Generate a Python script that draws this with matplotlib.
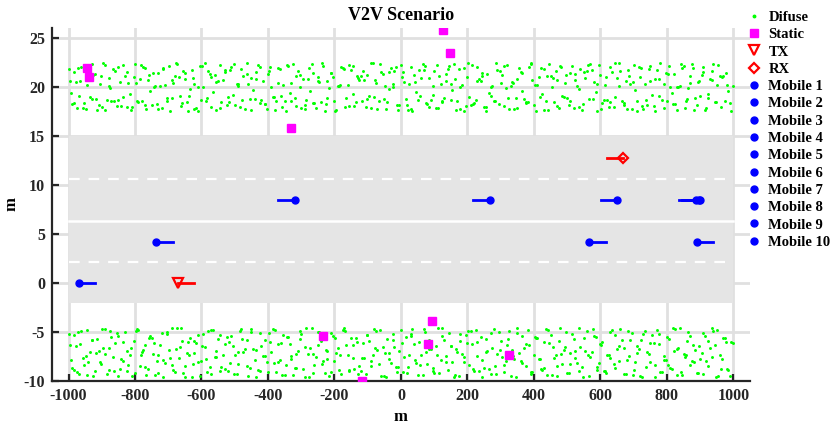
import matplotlib
matplotlib.use("Agg")
import matplotlib.pyplot as plt
from matplotlib.patches import Rectangle
from matplotlib.lines import Line2D

plt.rcParams['font.family'] = ['Liberation Serif', 'DejaVu Serif']
plt.rcParams['font.weight'] = 'bold'
plt.rcParams['axes.unicode_minus'] = False

# diffuse scatterers (estimated positions)
dif_xa = [-998, -989, -978, -969, -961, -948, -940, -929, -921, -909, -900, -891, -879, -871, -860, -851, -842, -829, -821, -811,
          -799, -791, -779, -770, -762, -749, -741, -730, -719, -711, -699, -690, -681, -669, -660, -651, -640, -629, -621, -610,
          -601, -589, -580, -571, -559, -550, -541, -530, -519, -511, -500, -489, -481, -470, -459, -451, -439, -431, -420, -409,
          -400, -391, -379, -371, -360, -349, -341, -330, -319, -310, -301, -290, -281, -269, -261, -250, -240, -229, -221, -209,
          -200, -190, -181, -169, -160, -151, -140, -131, -119, -110, -101, -89, -80, -71, -60, -49, -41, -30, -20, -11,
          -1, 9, 21, 30, 39, 51, 60, 71, 79, 91, 100, 111, 120, 129, 141, 150, 161, 170, 179, 191,
          200, 211, 219, 230, 241, 249, 260, 271, 280, 289, 301, 310, 320, 331, 339, 350, 361, 369, 381, 390,
          399, 410, 421, 430, 439, 451, 460, 471, 479, 490, 501, 509, 520, 531, 540, 549, 561, 570, 580, 591,
          599, 610, 621, 629, 640, 651, 659, 670, 681, 689, 700, 711, 720, 729, 741, 750, 761, 769, 780, 791,
          800, 809, 821, 830, 839, 851, 860, 871, 879, 890, 901, 910, 919, 931, 940, 949, 961, 970, 981, 994]
dif_xb = [-994, -984, -973, -965, -954, -944, -935, -925, -914, -905, -895, -884, -875, -866, -855, -846, -835, -825, -816, -804,
          -795, -785, -775, -766, -754, -745, -735, -724, -715, -705, -694, -685, -675, -665, -655, -645, -634, -625, -615, -605,
          -594, -585, -575, -564, -555, -545, -535, -524, -515, -505, -494, -485, -475, -464, -455, -445, -435, -425, -414, -404,
          -395, -385, -375, -365, -354, -345, -335, -324, -315, -305, -295, -285, -274, -265, -255, -245, -234, -225, -215, -204,
          -195, -185, -175, -164, -155, -145, -135, -125, -114, -105, -95, -85, -75, -65, -54, -45, -35, -25, -15, -5,
          5, 15, 25, 34, 45, 55, 65, 75, 85, 95, 106, 115, 125, 135, 145, 155, 166, 175, 185, 195,
          205, 215, 225, 236, 245, 255, 265, 275, 286, 295, 305, 315, 325, 335, 345, 355, 365, 375, 386, 395,
          405, 415, 425, 435, 445, 455, 466, 475, 485, 495, 505, 516, 525, 535, 545, 555, 565, 575, 586, 595,
          605, 615, 625, 635, 645, 655, 665, 676, 685, 695, 705, 715, 725, 735, 746, 755, 765, 775, 785, 796,
          805, 815, 825, 835, 845, 856, 865, 875, 885, 895, 905, 915, 925, 936, 945, 955, 965, 975, 985, 998]
dif_xc = [-996, -983, -970, -957, -943, -930, -917, -903, -890, -877, -863, -850, -837, -823, -810, -797, -783, -770, -757, -743,
          -730, -717, -703, -690, -677, -663, -650, -637, -623, -610, -597, -583, -570, -557, -543, -530, -517, -503, -490, -477,
          -463, -450, -437, -423, -410, -397, -383, -370, -357, -343, -330, -317, -303, -290, -277, -263, -250, -237, -223, -210,
          -197, -183, -170, -157, -143, -130, -117, -103, -90, -77, -63, -50, -37, -23, -10, 3, 17, 30, 43, 57,
          70, 83, 97, 110, 123, 137, 150, 163, 177, 190, 203, 217, 230, 243, 257, 270, 283, 297, 310, 323,
          337, 350, 363, 377, 390, 403, 417, 430, 443, 457, 470, 483, 497, 510, 523, 537, 550, 563, 577, 590,
          603, 617, 630, 643, 657, 670, 683, 697, 710, 723, 737, 750, 763, 777, 790, 803, 817, 830, 843, 857,
          870, 883, 897, 910, 923, 937, 950, 963, 977, 990]
dif_yu1 = [21.8, 18.2, 20.5, 19.1, 22.0, 17.7, 20.9, 18.8, 21.3, 18.1, 17.9, 22.2, 20.1, 18.5, 21.6, 18.7, 18.0, 21.1, 20.4, 17.6,
           22.3, 18.4, 18.6, 21.9, 20.7, 18.1, 20.1, 21.4, 17.8, 20.2, 22.1, 18.9, 21.1, 21.0, 18.3, 20.8, 17.5, 21.7, 17.7, 20.0,
           18.7, 22.4, 21.6, 17.9, 21.2, 20.6, 18.4, 21.5, 19.0, 22.0, 18.1, 20.3, 21.8, 17.7, 20.3, 20.9, 18.8, 22.2, 18.7, 18.2,
           21.3, 20.0, 17.6, 21.9, 19.1, 18.5, 22.1, 20.4, 18.9, 21.6, 17.8, 18.1, 20.8, 22.3, 18.3, 21.0, 18.4, 17.5, 20.6, 21.4,
           18.6, 20.1, 22.0, 17.9, 20.2, 21.7, 18.0, 21.1, 21.1, 20.7, 18.8, 22.4, 19.0, 17.7, 21.5, 20.1, 18.4, 21.9, 21.6, 18.1,
           22.2, 20.5, 17.6, 17.7, 21.2, 18.7, 20.9, 22.1, 18.2, 18.7, 21.6, 17.8, 20.3, 18.9, 21.8, 20.3, 22.3, 18.5, 20.0, 17.5,
           21.0, 18.1, 18.3, 22.0, 20.6, 17.9, 21.3, 19.1, 18.6, 21.7, 20.4, 18.0, 22.2, 20.1, 17.7, 20.8, 21.5, 18.8, 18.4, 22.4,
           18.1, 20.2, 21.9, 17.6, 21.1, 21.1, 18.4, 20.7, 22.1, 19.0, 18.9, 21.4, 17.8, 20.1, 21.8, 18.2, 21.6, 22.3, 20.5, 17.5,
           21.2, 18.7, 18.7, 22.0, 17.9, 20.9, 21.6, 18.3, 17.7, 20.3, 22.2, 18.5, 21.0, 17.7, 18.1, 20.6, 18.0, 21.7, 22.4, 20.3,
           18.6, 20.0, 21.3, 17.6, 20.1, 22.1, 18.8, 20.4, 21.9, 18.1, 19.1, 21.5, 17.8, 20.8, 22.3, 18.4, 21.1, 21.1, 20.2, 17.5]
dif_yu2 = [19.4, 21.5, 17.8, 20.6, 18.3, 22.1, 19.0, 21.2, 17.6, 20.3, 22.4, 18.7, 19.9, 21.8, 18.0, 20.5, 22.2, 17.9, 19.3, 21.0,
           18.5, 20.8, 22.0, 17.7, 19.6, 21.4, 18.2, 20.1, 21.9, 18.9, 17.5, 20.4, 22.3, 19.1, 21.6, 18.4, 19.8, 20.9, 17.8, 22.1,
           20.0, 18.6, 21.3, 19.5, 17.6, 22.2, 20.7, 18.1, 21.7, 19.2, 20.3, 17.9, 21.1, 22.4, 18.8, 19.7, 21.5, 18.3, 20.6, 17.7,
           22.0, 19.0, 18.5, 21.8, 20.2, 17.5, 19.4, 22.3, 18.0, 21.2, 20.8, 18.7, 19.6, 21.4, 17.8, 20.5, 22.1, 18.2, 19.9, 21.0,
           17.6, 20.1, 21.9, 18.9, 22.2, 19.3, 18.4, 20.7, 21.6, 17.9, 19.1, 22.4, 20.4, 18.6, 21.3, 17.7, 19.8, 20.0, 22.0, 18.1,
           21.5, 18.8, 20.3, 17.5, 19.5, 21.7, 22.3, 18.3, 20.9, 19.2, 17.8, 21.1, 18.5, 20.6, 22.1, 19.7, 17.6, 21.8, 20.2, 18.0,
           19.0, 22.2, 18.7, 20.8, 21.4, 17.9, 19.4, 20.1, 22.4, 18.2, 21.2, 19.9, 17.7, 20.5, 18.9, 21.9, 19.6, 18.4, 22.0, 20.7,
           17.5, 21.0, 19.3, 18.6, 22.3, 20.0, 21.6, 17.8, 19.1, 20.4, 18.1, 22.1, 21.3, 19.8, 17.6, 20.9, 18.8, 21.7, 19.5, 22.2,
           18.3, 20.2, 17.9, 21.5, 19.0, 22.4, 18.5, 20.6, 21.1, 17.7, 19.7, 22.0, 18.0, 20.3, 21.8, 19.2, 17.5, 20.8, 18.7, 21.4,
           22.1, 19.4, 18.2, 20.0, 21.9, 17.8, 19.9, 22.3, 18.9, 20.5, 21.2, 17.6, 19.3, 20.7, 18.4, 22.2, 21.0, 18.6, 19.6, 20.1]
dif_yu3 = [20.6, 18.3, 21.9, 17.8, 20.2, 22.3, 18.8, 21.1, 17.6, 20.9, 18.5, 22.0, 19.0, 21.5, 17.9, 20.4, 22.2, 18.1, 21.2, 20.0,
           17.7, 21.8, 18.6, 20.7, 22.4, 18.0, 21.4, 19.1, 20.3, 17.5, 22.1, 18.9, 21.0, 20.5, 17.8, 21.7, 18.4, 22.3, 20.1, 18.7,
           21.3, 17.6, 20.8, 22.0, 18.2, 21.6, 19.0, 20.4, 17.9, 22.2, 18.6, 21.1, 20.0, 17.7, 21.9, 18.3, 20.6, 22.4, 18.9, 21.4,
           17.5, 20.2, 21.8, 18.0, 22.1, 20.9, 18.5, 21.2, 17.8, 20.7, 22.3, 18.8, 21.5, 20.3, 17.6, 21.0, 18.1, 22.0, 20.5, 19.1,
           21.7, 17.9, 20.1, 22.2, 18.4, 21.3, 18.7, 20.8, 17.7, 21.9, 22.4, 18.2, 20.6, 21.1, 17.5, 20.0, 18.6, 21.6, 22.1, 18.9,
           20.4, 17.8, 21.4, 18.3, 22.3, 20.2, 19.0, 21.8, 17.6, 20.9, 18.0, 22.0, 21.2, 18.5, 20.7, 17.9, 21.5, 22.2, 18.8, 20.3,
           17.7, 21.0, 18.4, 22.4, 20.1, 18.1, 21.7, 20.5, 17.5, 21.9, 18.7, 22.1, 20.8, 19.1, 17.8, 21.3, 18.2, 20.0, 22.3, 18.6,
           21.1, 17.6, 20.6, 22.0, 18.9, 21.6, 20.2, 17.9, 21.4, 18.3]
dif_yl1 = [-5.2, -8.7, -6.4, -9.3, -4.9, -7.5, -8.1, -5.8, -9.0, -6.9, -4.7, -7.2, -8.9, -5.5, -6.1, -9.5, -7.8, -5.0, -8.4, -6.6,
           -9.2, -4.8, -7.0, -6.3, -8.8, -5.6, -9.4, -7.4, -5.1, -8.2, -6.8, -4.6, -9.1, -7.7, -5.9, -8.5, -6.0, -9.6, -7.1, -5.3,
           -8.0, -6.5, -4.9, -9.3, -7.6, -5.7, -8.6, -6.2, -9.0, -5.4, -7.3, -8.3, -4.7, -6.7, -9.5, -5.0, -7.9, -8.9, -6.4, -5.8,
           -9.1, -7.0, -4.8, -8.1, -6.1, -9.4, -5.5, -7.5, -8.7, -6.9, -5.2, -9.6, -7.2, -4.6, -8.4, -6.3, -5.9, -9.2, -7.8, -5.1,
           -8.0, -6.6, -9.3, -4.9, -7.4, -5.6, -8.8, -6.0, -9.0, -7.7, -5.3, -8.5, -4.7, -6.8, -9.5, -7.1, -5.7, -8.2, -6.5, -9.1,
           -4.8, -7.6, -8.6, -5.4, -6.2, -9.4, -7.3, -5.0, -8.3, -6.7, -9.2, -4.6, -7.9, -5.8, -8.9, -6.4, -9.6, -7.0, -5.2, -8.1,
           -6.1, -4.9, -9.0, -7.5, -5.5, -8.7, -6.9, -9.3, -4.7, -7.2, -5.9, -8.4, -6.3, -9.5, -7.8, -5.1, -8.0, -6.6, -4.8, -9.1,
           -7.4, -5.6, -8.8, -6.0, -9.4, -5.3, -7.7, -8.5, -4.6, -6.8, -9.2, -7.1, -5.7, -8.2, -6.5, -9.6, -4.9, -7.6, -5.4, -8.6,
           -6.2, -9.0, -7.3, -5.0, -8.3, -6.7, -4.7, -9.3, -7.9, -5.8, -8.9, -6.4, -9.5, -5.2, -7.0, -8.1, -6.1, -4.8, -9.1, -7.5,
           -5.5, -8.7, -6.9, -9.4, -4.6, -7.2, -5.9, -8.4, -6.3, -9.2, -7.8, -5.1, -8.0, -6.6, -4.9, -9.6, -7.4, -5.6, -8.8, -6.0]
dif_yl2 = [-7.9, -5.3, -9.1, -6.2, -8.4, -4.8, -7.0, -9.5, -5.7, -8.1, -6.6, -9.3, -4.9, -7.6, -5.1, -8.8, -6.0, -9.0, -7.3, -5.9,
           -4.7, -8.5, -6.8, -9.4, -5.4, -7.2, -8.0, -6.3, -9.6, -5.0, -7.7, -8.9, -4.6, -6.5, -9.2, -7.1, -5.6, -8.3, -6.1, -9.5,
           -5.2, -7.8, -8.6, -4.8, -6.9, -9.0, -7.4, -5.5, -8.2, -6.4, -9.3, -4.9, -7.0, -5.8, -8.7, -6.7, -9.6, -5.1, -7.5, -8.1,
           -6.0, -4.7, -9.1, -7.9, -5.3, -8.4, -6.2, -9.4, -7.2, -5.7, -8.8, -4.6, -6.6, -9.2, -7.6, -5.0, -8.0, -6.8, -9.5, -5.4,
           -7.1, -8.9, -4.8, -6.3, -9.0, -7.7, -5.6, -8.5, -6.1, -9.3, -5.9, -7.3, -4.9, -8.3, -6.5, -9.6, -7.8, -5.2, -8.6, -6.9,
           -9.1, -5.5, -7.4, -4.7, -8.2, -6.0, -9.4, -7.0, -5.8, -8.7, -6.4, -9.2, -4.6, -7.5, -5.1, -8.1, -6.7, -9.5, -7.2, -5.3,
           -8.4, -6.2, -4.8, -9.0, -7.9, -5.7, -8.8, -6.6, -9.3, -5.0, -7.6, -8.0, -4.9, -6.8, -9.6, -7.1, -5.4, -8.5, -6.3, -9.1,
           -5.6, -7.8, -8.9, -4.7, -6.1, -9.4, -7.3, -5.9, -8.3, -6.5, -9.2, -5.2, -7.7, -4.6, -8.6, -6.9, -9.5, -7.0, -5.5, -8.2,
           -6.0, -9.0, -7.4, -4.8, -8.7, -6.4, -5.8, -9.3, -7.5, -5.1, -8.1, -6.7, -9.6, -4.9, -7.2, -5.3, -8.4, -6.2, -9.1, -7.9,
           -5.7, -8.8, -4.7, -6.6, -9.4, -7.6, -5.0, -8.0, -6.8, -9.2, -7.1, -5.4, -8.5, -4.6, -6.3, -9.5, -7.8, -5.6, -8.9, -6.1]
dif_yl3 = [-6.3, -8.9, -5.0, -7.7, -9.4, -5.8, -7.1, -8.3, -4.7, -6.6, -9.0, -5.4, -8.0, -6.9, -9.5, -4.9, -7.4, -8.6, -5.6, -6.1,
           -9.2, -7.9, -5.2, -8.4, -6.7, -4.6, -9.6, -7.3, -5.9, -8.1, -6.4, -9.1, -4.8, -7.6, -5.3, -8.8, -6.0, -9.3, -7.0, -5.7,
           -8.5, -4.7, -6.8, -9.0, -7.5, -5.1, -8.2, -6.2, -9.4, -5.5, -7.8, -8.7, -4.9, -6.5, -9.6, -7.2, -5.0, -8.3, -6.9, -9.1,
           -5.6, -7.4, -4.6, -8.9, -6.3, -9.3, -7.7, -5.3, -8.0, -6.6, -4.8, -9.5, -7.1, -5.8, -8.6, -6.1, -9.2, -5.2, -7.9, -8.4,
           -4.7, -6.7, -9.0, -7.3, -5.4, -8.1, -6.4, -9.4, -5.9, -7.6, -4.9, -8.8, -6.0, -9.6, -7.0, -5.1, -8.5, -6.8, -9.1, -5.7,
           -7.5, -4.6, -8.2, -6.2, -9.3, -5.5, -7.8, -8.7, -4.8, -6.5, -9.5, -7.2, -5.0, -8.3, -6.9, -9.0, -5.6, -7.4, -4.7, -8.9,
           -6.3, -9.2, -7.7, -5.3, -8.0, -6.6, -4.9, -9.4, -7.1, -5.8, -8.6, -6.1, -9.6, -5.2, -7.9, -8.4, -4.6, -6.7, -9.1, -7.3,
           -5.4, -8.1, -6.4, -9.3, -5.9, -7.6, -4.8, -8.8, -6.0, -9.5]

# static scatterers
static_x = [-945, -937, -331, 126, 148, -234, -117, 94, 81, 325]
static_y = [21.9, 21.0, 15.8, 25.8, 23.4, -5.4, -10.0, -3.85, -6.2, -7.35]

# TX / RX
tx_x, tx_y, tx_dir = -671, 0.0, 1
rx_x, rx_y, rx_dir = 669, 12.7, -1

# mobiles
mob_x = [-969, -737, 567, 890, -319, 268, 651, 888, 900, 896]
mob_y = [0.0, 4.2, 4.2, 4.2, 8.5, 8.5, 8.5, 8.5, 8.5, 8.5]
mob_dir = [1, 1, 1, 1, -1, -1, -1, -1, -1, -1]

# road
road_y0, road_y1 = -2, 15
lane_dashed = [2.1, 10.6]
lane_solid = [6.35]

tail = 50
blue = '#0000ff'
red = '#ff0000'

fig = plt.figure(figsize=(8.37, 4.30), dpi=100)
ax = fig.add_axes([0.062, 0.114, 0.834, 0.821])

ax.set_xlim(-1050, 1050)
ax.set_ylim(-10, 26)
ax.set_xticks(range(-1000, 1001, 200))
ax.set_yticks(range(-10, 26, 5))
ax.grid(True, color='#e0e0e0', lw=2.0, zorder=0)
ax.set_axisbelow(True)

ax.add_patch(Rectangle((-1000, road_y0), 2000, road_y1 - road_y0,
                       facecolor='#e5e5e5', edgecolor='none', zorder=1))
for yy in lane_dashed:
    ax.plot([-1000, 1000], [yy, yy], color='white', lw=1.6,
            linestyle=(0, (4.8, 4.0)), zorder=2)
for yy in lane_solid:
    ax.plot([-1000, 1000], [yy, yy], color='white', lw=1.8, zorder=2)

dif_kw = dict(s=4.5, color='#00ff00', marker='o', linewidths=0, zorder=3)
for xs, ys in [(dif_xa, dif_yu1), (dif_xb, dif_yu2), (dif_xc, dif_yu3),
               (dif_xa, dif_yl1), (dif_xb, dif_yl2), (dif_xc, dif_yl3)]:
    n = min(len(xs), len(ys))
    ax.scatter(xs[:n], ys[:n], **dif_kw)

ax.plot(static_x, static_y, 's', color='#ff00ff', ms=5.5, zorder=5)

ax.plot([tx_x, tx_x + tx_dir * tail], [tx_y, tx_y], color=red, lw=2, zorder=4)
ax.plot(tx_x, tx_y, 'v', mfc='none', mec=red, mew=1.6, ms=7, zorder=5)
ax.plot([rx_x, rx_x + rx_dir * tail], [rx_y, rx_y], color=red, lw=2, zorder=4)
ax.plot(rx_x, rx_y, 'D', mfc='none', mec=red, mew=1.6, ms=5.5, zorder=5)

for x, y, d in zip(mob_x, mob_y, mob_dir):
    ax.plot([x, x + d * tail], [y, y], color=blue, lw=2, zorder=4)
    ax.plot(x, y, 'o', color=blue, ms=5, zorder=5)

for s in ['top', 'right']:
    ax.spines[s].set_visible(False)
for s in ['left', 'bottom']:
    ax.spines[s].set_linewidth(1.6)
    ax.spines[s].set_color('#262626')
ax.tick_params(direction='in', length=5, width=1.6, colors='#262626',
               labelsize=11.5, pad=5)
for lab in ax.get_xticklabels() + ax.get_yticklabels():
    lab.set_fontweight('bold')

ax.set_title('V2V Scenario', fontsize=13, fontweight='bold', pad=6)
ax.set_xlabel('m', fontsize=12, fontweight='bold', labelpad=4)
ax.set_ylabel('m', fontsize=12, fontweight='bold', labelpad=3)

handles = [
    Line2D([], [], ls='none', marker='o', color='#00ff00', ms=1.8),
    Line2D([], [], ls='none', marker='s', color='#ff00ff', ms=6),
    Line2D([], [], ls='none', marker='v', mfc='none', mec=red, mew=1.6, ms=7),
    Line2D([], [], ls='none', marker='D', mfc='none', mec=red, mew=1.6, ms=5.5),
] + [Line2D([], [], ls='none', marker='o', color=blue, ms=5) for _ in range(10)]
labels = ['Difuse', 'Static', 'TX', 'RX'] + ['Mobile %d' % (i + 1) for i in range(10)]
fig.legend(handles, labels, loc='upper left', bbox_to_anchor=(0.878, 1.002),
           frameon=False, prop={'size': 10.5, 'weight': 'bold'},
           labelspacing=0.28, handlelength=1.0, handletextpad=0.5, borderpad=0.3)

fig.savefig('out.png', dpi=100)
